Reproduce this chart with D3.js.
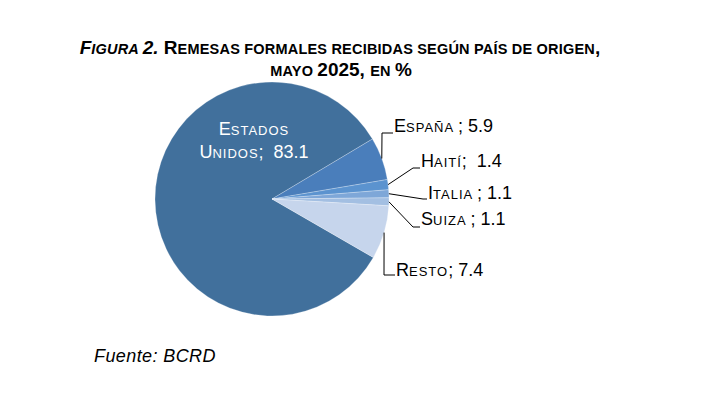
<!DOCTYPE html>
<html>
<head>
<meta charset="utf-8">
<script src="https://cdn.jsdelivr.net/npm/d3@7"></script>
<style>
  body { margin: 0; background: #fff; }
  svg { display: block; font-family: "Liberation Sans", Arial, sans-serif; }
  svg text { white-space: pre; }
</style>
</head>
<body>
<div id="chart"></div>
<script>
// data
var countries = ["Estados Unidos", "España", "Haití", "Italia", "Suiza", "Resto"];
var values = [83.1, 5.9, 1.4, 1.1, 1.1, 7.4];
var separators = [";  ", " ; ", ";  ", " ; ", " ; ", "; "];
var colors = ["#41709c", "#4a7ebb", "#5b93cf", "#7ea7d8", "#a3bfe2", "#c6d5ec"];

var width = 714, height = 394;
var cx = 272, cy = 199, radius = 117;

var svg = d3.select("#chart")
  .append("svg")
    .attr("width", width)
    .attr("height", height);

// writes a string in small caps: lower case letters become smaller capitals
function smallCaps(textSel, str, big, small, spacing) {
  var runs = [];
  for (var i = 0; i < str.length; i++) {
    var c = str[i];
    var isSmall = (c !== c.toUpperCase());
    if (c === " " && runs.length) isSmall = runs[runs.length - 1].small;
    if (runs.length && runs[runs.length - 1].small === isSmall) {
      runs[runs.length - 1].t += c;
    } else {
      runs.push({t: c, small: isSmall});
    }
  }
  runs.forEach(function (r) {
    textSel.append("tspan")
      .attr("font-size", r.small ? small : big)
      .attr("letter-spacing", r.small ? (spacing || 0) : 0)
      .text(r.small ? r.t.toUpperCase() : r.t);
  });
  return textSel;
}

// title
var t1 = svg.append("text")
  .attr("x", 340).attr("y", 54)
  .attr("text-anchor", "middle")
  .attr("font-weight", "bold")
  .attr("fill", "#000");
var it = t1.append("tspan").attr("font-style", "italic");
smallCaps(it, "Figura 2.", 19, 14.5, 0.2);
smallCaps(t1, " Remesas formales recibidas según país de origen,", 19, 14.5, 0.2);

var t2 = svg.append("text")
  .attr("x", 341).attr("y", 76)
  .attr("text-anchor", "middle")
  .attr("font-weight", "bold")
  .attr("fill", "#000");
smallCaps(t2, "mayo 2025, en %", 19, 14.5, 0.2);

// pie
var start = 120 * Math.PI / 180;
var pie = d3.pie().sort(null).value(function (d) { return d; })
  .startAngle(start).endAngle(start + 2 * Math.PI);
var arcs = pie(values);
var arc = d3.arc().innerRadius(0).outerRadius(radius);

var g = svg.append("g").attr("transform", "translate(" + cx + "," + cy + ")");
g.selectAll("path")
  .data(arcs)
  .enter()
  .append("path")
    .attr("d", arc)
    .attr("fill", function (d, i) { return colors[i]; })
    .attr("stroke", "#ffffff")
    .attr("stroke-opacity", 0.35)
    .attr("stroke-width", 0.7);

// label for the big slice, inside
var eu = svg.append("g").attr("fill", "#fff").attr("text-anchor", "middle");
smallCaps(eu.append("text").attr("x", 254).attr("y", 135), "Estados", 18, 13, 1);
smallCaps(eu.append("text").attr("x", 254).attr("y", 158), "Unidos" + separators[0] + values[0].toFixed(1), 18, 13, 1);

// outside labels: elbow point and text start
var labelLayout = [
  null,
  {ex: 382, ey: 133, tx: 394, ty: 132},
  {ex: 413, ey: 168, tx: 421, ty: 167},
  {ex: 423, ey: 199, tx: 428, ty: 199},
  {ex: 413, ey: 227, tx: 421, ty: 225},
  {ex: 384, ey: 275, tx: 396, ty: 276}
];

arcs.forEach(function (d, i) {
  var L = labelLayout[i];
  if (!L) return;
  var a = (d.startAngle + d.endAngle) / 2;
  var px = cx + radius * Math.sin(a), py = cy - radius * Math.cos(a);
  svg.append("path")
    .attr("d", "M" + px + "," + py + "L" + L.ex + "," + L.ey + "L" + (L.tx - 1) + "," + L.ey)
    .attr("fill", "none")
    .attr("stroke", "#000")
    .attr("stroke-width", 1);
  var txt = svg.append("text").attr("x", L.tx).attr("y", L.ty).attr("fill", "#000");
  smallCaps(txt, countries[i] + separators[i] + values[i].toFixed(1), 18, 13, 1);
});

// source
svg.append("text")
  .attr("x", 94).attr("y", 362)
  .attr("font-size", 18)
  .attr("letter-spacing", 0.4)
  .attr("font-style", "italic")
  .attr("fill", "#000")
  .text("Fuente: BCRD");
</script>
</body>
</html>
